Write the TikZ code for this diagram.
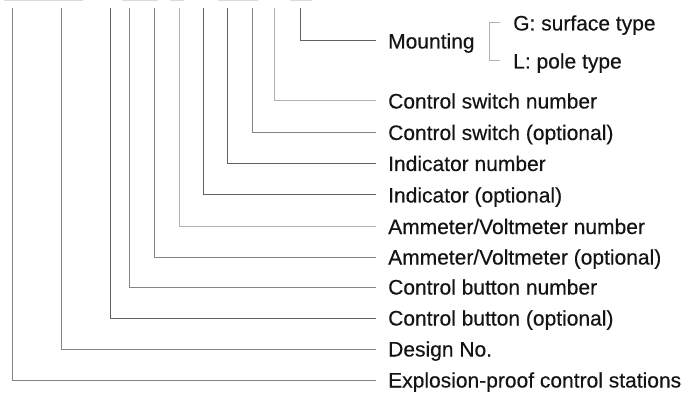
\documentclass[tikz,border=0pt]{standalone}
\usepackage{fontspec}
\setmainfont{Liberation Sans}[FakeBold=0.35]
\begin{document}
\begin{tikzpicture}[x=1pt,y=-1pt,
  lab/.style={anchor=west, inner xsep=12pt, inner ysep=0pt, text height=15pt, text depth=0pt,
    font=\fontsize{21}{21}\selectfont, text=black!92},
  sub/.style={lab, inner xsep=13pt},
  dk/.style={draw=black!62, line width=1pt},
  md/.style={draw=black!48, line width=1pt},
  lt/.style={draw=black!30, line width=1pt},
  cut/.style={draw=black!15, line width=1.2pt}]
\useasboundingbox (0,0) rectangle (686,393);
% cut-off code row at the top edge
\draw[cut] (4,0.6) -- (83,0.6);
\draw[cut] (122,0.6) -- (158,0.6);
\draw[cut] (170,0.6) -- (184,0.6);
\draw[cut] (218,0.6) -- (258,0.6);
\draw[cut] (290,0.6) -- (312,0.6);
% labels
\node[lab] (mount) at (376,41) {Mounting};
\node[sub] (g) at (500,23) {G: surface type};
\node[sub] (l) at (500,61) {L: pole type};
\node[lab] (csn) at (376,101) {Control switch number};
\node[lab] (cso) at (376,132.5) {Control switch (optional)};
\node[lab] (inn) at (376,163.5) {Indicator number};
\node[lab] (ino) at (376,195) {Indicator (optional)};
\node[lab] (avn) at (376,226.5) {Ammeter/Voltmeter number};
\node[lab] (avo) at (376,257) {Ammeter/Voltmeter (optional)};
\node[lab] (cbn) at (376,287) {Control button number};
\node[lab] (cbo) at (376,318) {Control button (optional)};
\node[lab] (des) at (376,349) {Design No.};
\node[lab] (exp) at (376,380) {Explosion-proof control stations};
% top ends of the connectors
\coordinate (tmount) at (300.7,8);
\coordinate (tcsn) at (274,8);
\coordinate (tcso) at (252.3,8);
\coordinate (tinn) at (227.3,8);
\coordinate (tino) at (203.3,8);
\coordinate (tavn) at (179,8);
\coordinate (tavo) at (154.3,8);
\coordinate (tcbn) at (129.3,8);
\coordinate (tcbo) at (110,8);
\coordinate (tdes) at (61.7,8);
\coordinate (texp) at (12.7,8);
% connectors
\draw[dk] (tmount) |- (mount.west);
\draw[lt] (tcsn) |- (csn.west);
\draw[md] (tcso) |- (cso.west);
\draw[dk] (tinn) |- (inn.west);
\draw[dk] (tino) |- (ino.west);
\draw[lt] (tavn) |- (avn.west);
\draw[md] (tavo) |- (avo.west);
\draw[md] (tcbn) |- (cbn.west);
\draw[dk] (tcbo) |- (cbo.west);
\draw[md] (tdes) |- (des.west);
\draw[md] (texp) |- (exp.west);
% bracket for mounting options
\draw[lt] (g.west) -- ++(-11,0) |- (l.west);
\end{tikzpicture}
\end{document}
